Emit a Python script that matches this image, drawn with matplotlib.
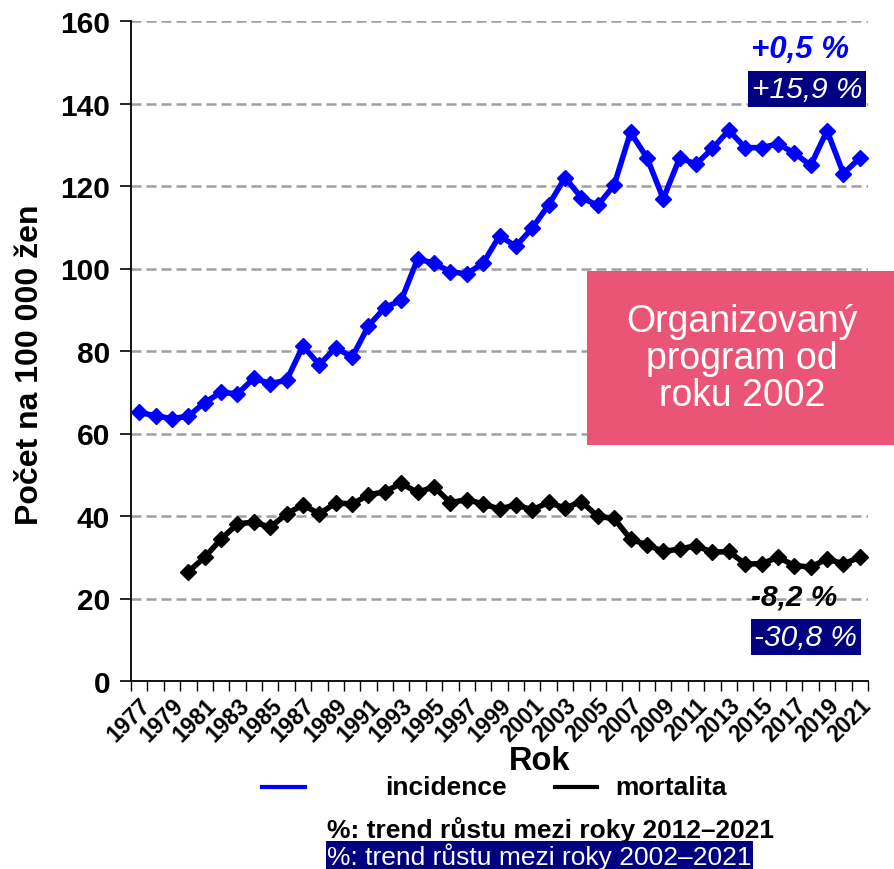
import numpy as np
import matplotlib
matplotlib.use("Agg")
import matplotlib.pyplot as plt
from matplotlib.lines import Line2D
from matplotlib.patches import Rectangle

plt.rcParams['font.family'] = ['Liberation Sans', 'DejaVu Sans']

years = list(range(1977, 2022))
incidence = [65.1, 64.3, 63.6, 64.2, 67.5, 70.0, 69.6, 73.4, 72.1, 72.9,
             81.2, 76.7, 80.8, 78.5, 86.1, 90.5, 92.3, 102.3, 101.3, 99.2,
             98.7, 101.3, 107.9, 105.4, 109.8, 115.4, 122.0, 117.2, 115.3, 120.2,
             133.0, 126.9, 116.9, 126.8, 125.3, 129.1, 133.5, 129.3, 129.3, 130.2,
             128.0, 125.0, 133.4, 123.0, 126.8]
mortality = [np.nan, np.nan, np.nan, 26.5, 30.0, 34.4, 38.1, 38.5, 37.3, 40.5,
             42.7, 40.5, 43.2, 42.9, 45.1, 45.9, 47.9, 45.7, 47.1, 43.2,
             44.0, 42.9, 41.7, 42.7, 41.5, 43.3, 41.9, 43.5, 39.9, 39.4,
             34.4, 33.0, 31.4, 32.0, 32.8, 31.2, 31.4, 28.4, 28.4, 30.0,
             28.0, 27.6, 29.6, 28.4, 30.0]
y_ticks = [0, 20, 40, 60, 80, 100, 120, 140, 160]
series_names = ["incidence", "mortalita"]
trend_incidence = ["+0,5 %", "+15,9 %"]
trend_mortality = ["-8,2 %", "-30,8 %"]
box_text = "Organizovaný\nprogram od\nroku 2002"
note_short = "%: trend růstu mezi roky 2012–2021"
note_long = "%: trend růstu mezi roky 2002–2021"

W, H = 894, 870
fig = plt.figure(figsize=(W / 100, H / 100), dpi=100)
fig.patch.set_facecolor('white')

def fx(px):
    return px / W

def fy(py):
    return 1 - py / H

ax = fig.add_axes([fx(131), fy(682), fx(868) - fx(131), fy(22) - fy(682)])
x = np.arange(len(years))

ax.plot(x, incidence, color='#0000FF', lw=4, marker='D', ms=8,
        solid_joinstyle='round', zorder=4, clip_on=False)
ax.plot(x, mortality, color='#000000', lw=4, marker='D', ms=8,
        solid_joinstyle='round', zorder=4, clip_on=False)

ax.set_xlim(-0.5, len(years) - 0.5)
ax.set_ylim(0, 160)
ax.set_yticks(y_ticks)
ax.set_yticklabels([str(v) for v in y_ticks], fontsize=21.5, fontweight='bold')
ax.tick_params(axis='y', direction='out', length=8, width=1.2, pad=7, colors='black')
for v in y_ticks[1:]:
    ax.axhline(v, color='#A0A0A0', lw=1.8, ls=(0, (4, 2)), zorder=1)

ax.set_xticks(x[::2])
ax.set_xticklabels([str(y) for y in years[::2]], rotation=45, ha='right',
                   rotation_mode='anchor', fontsize=16.5, fontweight='bold')
ax.tick_params(axis='x', which='major', length=0, pad=9)
ax.set_xticks(np.arange(-0.5, len(years), 1.0), minor=True)
ax.tick_params(axis='x', which='minor', direction='out', length=7, width=1, color='black')

for s in ['top', 'right']:
    ax.spines[s].set_visible(False)
ax.spines['left'].set_linewidth(1.3)
ax.spines['bottom'].set_linewidth(1.3)

fig.text(fx(30), fy(365), "Počet na 100 000 žen", rotation=90, fontsize=23,
         fontweight='bold', ha='center', va='center')
fig.text(fx(540), fy(762), "Rok", fontsize=23.5, fontweight='bold', ha='center', va='center')

# Pink box
fig.patches.append(Rectangle((fx(587), fy(446)), fx(894) - fx(587), fy(272) - fy(446),
                             transform=fig.transFigure, facecolor='#EB5575',
                             edgecolor='none', zorder=2))
fig.text(fx(742), fy(359), box_text, fontsize=27, color='white', ha='center',
         va='center', linespacing=1.05, zorder=3)

# Trend annotations
fig.text(fx(800), fy(50), trend_incidence[0], fontsize=22.5, fontweight='bold',
         style='italic', color='#0000FF', ha='center', va='center')
fig.text(fx(807), fy(90), trend_incidence[1], fontsize=21.5, style='italic',
         color='white', ha='center', va='center',
         bbox=dict(boxstyle='square,pad=0.12', facecolor='#000080', edgecolor='none'))
fig.text(fx(794), fy(598), trend_mortality[0], fontsize=21.5, fontweight='bold',
         style='italic', color='black', ha='center', va='center')
fig.text(fx(806), fy(638), trend_mortality[1], fontsize=21.5, style='italic',
         color='white', ha='center', va='center',
         bbox=dict(boxstyle='square,pad=0.12', facecolor='#000080', edgecolor='none'))

# Legend
fig.add_artist(Line2D([fx(262), fx(305)], [fy(788), fy(788)], color='#0000FF', lw=3))
fig.text(fx(385), fy(788), series_names[0], fontsize=19, fontweight='bold',
         ha='left', va='center')
fig.add_artist(Line2D([fx(555), fx(597)], [fy(788), fy(788)], color='black', lw=3))
fig.text(fx(615), fy(788), series_names[1], fontsize=19, fontweight='bold',
         ha='left', va='center')

# Notes
fig.text(fx(327), fy(830), note_short, fontsize=19, fontweight='bold',
         ha='left', va='center')
fig.text(fx(327), fy(857), note_long, fontsize=19, color='white',
         ha='left', va='center',
         bbox=dict(boxstyle='square,pad=0.05', facecolor='#000080', edgecolor='none'))

fig.savefig('out.png', dpi=100, facecolor='white')
